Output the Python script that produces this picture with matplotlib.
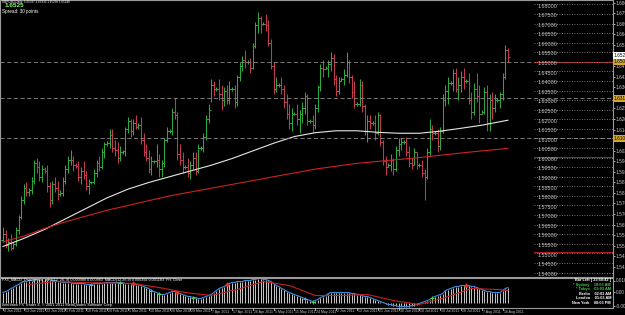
import numpy as np
import matplotlib.pyplot as plt
from matplotlib.collections import LineCollection

# -- price bars (GBPUSD daily, 4 Jan - 18 Aug 2011) ---------------------------
FIRST_OPEN = 1.5570
highs = [
    1.5640, 1.5620, 1.5580, 1.5600, 1.5560, 1.5640, 1.5700, 1.5800,
    1.5860, 1.5870, 1.5840, 1.5900, 1.5990, 1.6000, 1.5980, 1.5960,
    1.5950, 1.5960, 1.5870, 1.5880, 1.5900, 1.5880, 1.5830, 1.5900,
    1.5960, 1.6010, 1.6040, 1.6010, 1.5970, 1.5980, 1.5950, 1.5980,
    1.5930, 1.5890, 1.5880, 1.5940, 1.5990, 1.6010, 1.6050, 1.6080,
    1.6085, 1.6150, 1.6150, 1.6090, 1.6080, 1.6060, 1.6040, 1.6160,
    1.6210, 1.6200, 1.6200, 1.6220, 1.6180, 1.6210, 1.6130, 1.6070,
    1.6040, 1.6010, 1.5990, 1.6070, 1.6020, 1.5990, 1.6100, 1.6160,
    1.6150, 1.6260, 1.6310, 1.6240, 1.6070, 1.6030, 1.5960, 1.6000,
    1.5980, 1.6030, 1.6030, 1.6070, 1.6060, 1.6130, 1.6220, 1.6280,
    1.6410, 1.6400, 1.6370, 1.6410, 1.6380, 1.6370, 1.6380, 1.6400,
    1.6370, 1.6380, 1.6430, 1.6500, 1.6530, 1.6560, 1.6510, 1.6520,
    1.6600, 1.6710, 1.6760, 1.6740, 1.6710, 1.6750, 1.6720, 1.6620,
    1.6500, 1.6420, 1.6390, 1.6420, 1.6380, 1.6330, 1.6280, 1.6260,
    1.6240, 1.6280, 1.6250, 1.6290, 1.6340, 1.6330, 1.6200, 1.6220,
    1.6280, 1.6380, 1.6490, 1.6510, 1.6480, 1.6510, 1.6550, 1.6540,
    1.6430, 1.6420, 1.6420, 1.6460, 1.6550, 1.6510, 1.6430, 1.6400,
    1.6290, 1.6410, 1.6400, 1.6280, 1.6220, 1.6220, 1.6190, 1.6220,
    1.6240, 1.6230, 1.6090, 1.6010, 1.5970, 1.6020, 1.6000, 1.6060,
    1.6100, 1.6100, 1.6090, 1.6110, 1.6060, 1.6000, 1.6050, 1.6030,
    1.5970, 1.5990, 1.5940, 1.6050, 1.6200, 1.6170, 1.6140, 1.6150,
    1.6160, 1.6330, 1.6380, 1.6420, 1.6400, 1.6460, 1.6470, 1.6420,
    1.6450, 1.6470, 1.6410, 1.6440, 1.6340, 1.6390, 1.6440, 1.6380,
    1.6250, 1.6370, 1.6380, 1.6330, 1.6340, 1.6330, 1.6310, 1.6340,
    1.6440, 1.6590, 1.6570,
]
lows = [
    1.5560, 1.5530, 1.5510, 1.5520, 1.5525, 1.5540, 1.5600, 1.5680,
    1.5760, 1.5800, 1.5800, 1.5810, 1.5860, 1.5920, 1.5880, 1.5870,
    1.5920, 1.5820, 1.5740, 1.5760, 1.5820, 1.5780, 1.5800, 1.5800,
    1.5860, 1.5920, 1.5960, 1.5930, 1.5945, 1.5880, 1.5860, 1.5890,
    1.5830, 1.5810, 1.5860, 1.5860, 1.5900, 1.5930, 1.5940, 1.6000,
    1.6060, 1.6050, 1.6030, 1.6010, 1.5970, 1.5980, 1.6020, 1.6010,
    1.6130, 1.6110, 1.6120, 1.6150, 1.6150, 1.6070, 1.6010, 1.5980,
    1.5920, 1.5910, 1.5970, 1.5950, 1.5900, 1.5900, 1.5950, 1.6080,
    1.6130, 1.6120, 1.6200, 1.5990, 1.5960, 1.5920, 1.5940, 1.5900,
    1.5890, 1.5940, 1.5910, 1.5920, 1.6040, 1.6030, 1.6090, 1.6180,
    1.6290, 1.6320, 1.6350, 1.6300, 1.6250, 1.6270, 1.6280, 1.6280,
    1.6350, 1.6260, 1.6270, 1.6400, 1.6450, 1.6470, 1.6490, 1.6440,
    1.6460, 1.6570, 1.6650, 1.6650, 1.6690, 1.6660, 1.6580, 1.6460,
    1.6330, 1.6340, 1.6370, 1.6330, 1.6260, 1.6200, 1.6150, 1.6140,
    1.6220, 1.6170, 1.6130, 1.6180, 1.6230, 1.6170, 1.6180, 1.6130,
    1.6150, 1.6240, 1.6350, 1.6420, 1.6460, 1.6420, 1.6450, 1.6380,
    1.6320, 1.6330, 1.6400, 1.6380, 1.6420, 1.6390, 1.6310, 1.6260,
    1.6270, 1.6270, 1.6240, 1.6120, 1.6080, 1.6150, 1.6170, 1.6090,
    1.6120, 1.6060, 1.5960, 1.5910, 1.5950, 1.5930, 1.5910, 1.5930,
    1.6010, 1.6040, 1.6070, 1.6010, 1.5950, 1.5940, 1.5960, 1.5940,
    1.5950, 1.5900, 1.5780, 1.5890, 1.6010, 1.6090, 1.6120, 1.6030,
    1.6040, 1.6130, 1.6270, 1.6280, 1.6380, 1.6350, 1.6340, 1.6300,
    1.6340, 1.6360, 1.6390, 1.6280, 1.6200, 1.6220, 1.6290, 1.6180,
    1.6230, 1.6230, 1.6140, 1.6140, 1.6200, 1.6240, 1.6290, 1.6260,
    1.6300, 1.6410, 1.6500,
]
closes = [
    1.5600, 1.5545, 1.5560, 1.5530, 1.5550, 1.5620, 1.5690, 1.5780,
    1.5840, 1.5820, 1.5830, 1.5880, 1.5970, 1.5950, 1.5900, 1.5940,
    1.5930, 1.5850, 1.5780, 1.5860, 1.5840, 1.5810, 1.5815, 1.5880,
    1.5940, 1.5990, 1.5990, 1.5960, 1.5955, 1.5900, 1.5930, 1.5910,
    1.5850, 1.5870, 1.5870, 1.5920, 1.5970, 1.5950, 1.6030, 1.6070,
    1.6075, 1.6120, 1.6050, 1.6040, 1.6000, 1.6030, 1.6035, 1.6150,
    1.6190, 1.6140, 1.6180, 1.6160, 1.6170, 1.6090, 1.6030, 1.6000,
    1.5940, 1.5980, 1.5980, 1.5990, 1.5940, 1.5970, 1.6090, 1.6140,
    1.6140, 1.6240, 1.6220, 1.6020, 1.5990, 1.5950, 1.5950, 1.5920,
    1.5960, 1.6000, 1.5930, 1.6050, 1.6050, 1.6110, 1.6200, 1.6250,
    1.6380, 1.6360, 1.6360, 1.6330, 1.6300, 1.6350, 1.6300, 1.6360,
    1.6360, 1.6290, 1.6420, 1.6480, 1.6510, 1.6500, 1.6500, 1.6470,
    1.6580, 1.6690, 1.6730, 1.6700, 1.6700, 1.6690, 1.6600, 1.6480,
    1.6360, 1.6380, 1.6380, 1.6360, 1.6290, 1.6230, 1.6180, 1.6230,
    1.6230, 1.6200, 1.6230, 1.6260, 1.6320, 1.6190, 1.6190, 1.6170,
    1.6260, 1.6370, 1.6470, 1.6460, 1.6470, 1.6490, 1.6520, 1.6410,
    1.6350, 1.6400, 1.6410, 1.6430, 1.6500, 1.6420, 1.6340, 1.6280,
    1.6280, 1.6380, 1.6270, 1.6140, 1.6190, 1.6180, 1.6180, 1.6130,
    1.6220, 1.6080, 1.5980, 1.5950, 1.5960, 1.5990, 1.5940, 1.6040,
    1.6070, 1.6080, 1.6080, 1.6030, 1.5970, 1.5960, 1.6030, 1.5960,
    1.5960, 1.5920, 1.5900, 1.6030, 1.6150, 1.6130, 1.6130, 1.6060,
    1.6140, 1.6300, 1.6350, 1.6390, 1.6390, 1.6440, 1.6360, 1.6380,
    1.6420, 1.6400, 1.6400, 1.6300, 1.6240, 1.6360, 1.6320, 1.6230,
    1.6240, 1.6340, 1.6180, 1.6300, 1.6260, 1.6300, 1.6300, 1.6330,
    1.6420, 1.6560, 1.6525,
]

# moving averages, read every 8 bars
ma_idx = [0, 8, 16, 24, 32, 40, 48, 56, 64, 72, 80, 88, 96, 104, 112, 120,
          128, 136, 144, 152, 160, 168, 176, 184, 192, 194]
ma_fast = [1.5536, 1.5578, 1.5625, 1.5680, 1.5735, 1.5790, 1.5835, 1.5870,
           1.5900, 1.5930, 1.5960, 1.5995, 1.6035, 1.6075, 1.6110, 1.6130,
           1.6140, 1.6140, 1.6132, 1.6127, 1.6127, 1.6138, 1.6153, 1.6169,
           1.6190, 1.6195]
ma_slow = [1.5560, 1.5590, 1.5630, 1.5665, 1.5695, 1.5725, 1.5750, 1.5775,
           1.5800, 1.5820, 1.5840, 1.5860, 1.5880, 1.5900, 1.5920, 1.5940,
           1.5955, 1.5970, 1.5980, 1.5990, 1.6000, 1.6012, 1.6024, 1.6035,
           1.6045, 1.6048]

# horizontal levels
dash_levels = [1.6500, 1.6310, 1.6100]
red_levels = [1.6500, 1.6005, 1.5505]
round_levels = [1.68 - 0.005 * k for k in range(29)]
axis_ticks = [1.68086 - 0.005517 * k for k in range(27)]
last_price = 1.6525

# -- MACD window (values in 0.0001) ------------------------------------------
macd = [
    60, 66, 72, 84, 90, 102, 108, 120, 126, 126, 132, 132, 138, 138, 144, 144,
    144, 138, 138, 132, 132, 126, 126, 120, 120, 120, 120, 114, 114, 114, 114, 114,
    108, 108, 108, 114, 114, 114, 114, 120, 120, 120, 120, 120, 120, 120, 120, 114,
    114, 114, 114, 108, 108, 102, 96, 90, 84, 72, 66, 60, 54, 48, 48, 54,
    60, 66, 66, 60, 54, 48, 42, 36, 36, 30, 30, 24, 24, 30, 36, 42,
    48, 60, 72, 84, 90, 96, 108, 114, 120, 120, 126, 126, 126, 132, 132, 132,
    138, 138, 144, 144, 138, 138, 132, 126, 114, 102, 96, 84, 78, 66, 60, 54,
    48, 42, 36, 30, 24, 18, 12, 6, 12, 18, 30, 36, 42, 54, 60, 60,
    60, 60, 60, 60, 60, 60, 54, 54, 48, 48, 42, 36, 36, 30, 24, 18,
    12, 6, 0, -6, -12, -12, -18, -18, -24, -24, -24, -24, -24, -18, -18, -12,
    -6, 0, 6, 12, 18, 30, 36, 42, 48, 54, 72, 78, 84, 90, 96, 96,
    102, 102, 102, 102, 96, 96, 90, 84, 78, 72, 66, 66, 60, 60, 60, 60,
    72, 84, 90,
]
sig_idx = [10, 20, 30, 40, 50, 60, 70, 80, 90, 100, 110, 120, 130, 140, 150,
           160, 170, 180, 190, 194]
signal = [108, 126, 120, 117, 114, 90, 60, 42, 78, 126, 102, 42, 42, 48, 12,
          -12, 30, 84, 78, 72]
bull_idx = [34, 45, 57, 60, 73, 116, 119, 165]
bear_idx = [50, 67, 86, 178]

dates = ['4 Jan 2011', '13 Jan 2011', '23 Jan 2011', '1 Feb 2011', '10 Feb 2011',
         '20 Feb 2011', '1 Mar 2011', '10 Mar 2011', '20 Mar 2011', '29 Mar 2011',
         '7 Apr 2011', '17 Apr 2011', '26 Apr 2011', '5 May 2011', '15 May 2011',
         '24 May 2011', '2 Jun 2011', '12 Jun 2011', '21 Jun 2011', '30 Jun 2011',
         '10 Jul 2011', '19 Jul 2011', '28 Jul 2011', '7 Aug 2011', '16 Aug 2011']

clock_lines = [('Bar Left [ 23:58:42 ]', 'white'),
               ('* Sydney    10:03 AM', '#3cd23c'),
               ('* Tokyo    09:03 AM', '#3cd23c'),
               ('Berlin    02:03 AM', 'white'),
               ('London    01:03 AM', 'white'),
               ('New York    08:03 PM', 'white')]

NARROW = ['Liberation Sans Narrow', 'Liberation Sans', 'DejaVu Sans']
UP, DOWN = '#2fa83a', '#c23a52'
GRID = '#8c8c8c'
TXT = '#c8c8c8'
W, H = 625, 315
XMIN, XMAX = -1.15, 234.2
AX_R = 612.5

fig = plt.figure(figsize=(W / 100, H / 100), dpi=100, facecolor='black')


def px_axes(x0, y0, x1, y1):
    a = fig.add_axes([x0 / W, 1 - y1 / H, (x1 - x0) / W, (y1 - y0) / H])
    a.set_facecolor('black')
    for s in a.spines.values():
        s.set_color('#9a9a9a')
        s.set_linewidth(0.8)
    a.set_xlim(XMIN, XMAX)
    a.tick_params(colors=TXT, labelsize=3.4, length=1.5, width=0.6, pad=1)
    return a


def ftext(x, y, s, **kw):
    # text placed in figure pixels (from top-left)
    kw.setdefault('family', NARROW)
    fig.text(x / W, 1 - y / H, s, **kw)


ax = px_axes(0, 0, AX_R, 276.5)
axi = px_axes(0, 277.5, AX_R, 308)
ax.set_ylim(1.53792, 1.68227)

# OHLC bars
opens = [FIRST_OPEN] + closes[:-1]
segs, cols = [], []
for i, (o, h, l, c) in enumerate(zip(opens, highs, lows, closes)):
    col = UP if c >= o else DOWN
    segs += [[(i, l), (i, h)], [(i - 0.7, o), (i, o)], [(i, c), (i + 0.7, c)]]
    cols += [col] * 3
ax.add_collection(LineCollection(segs, colors=cols, linewidths=0.75))

ax.plot(ma_idx, ma_fast, color='#e6e6e6', lw=0.8)
ax.plot(ma_idx, ma_slow, color='#d02020', lw=0.8)

for lv in dash_levels:
    ax.axhline(lv, color=GRID, lw=0.6, ls=(0, (5, 3)))
for lv in red_levels:
    ax.plot([204, XMAX], [lv, lv], color='#b02020', lw=0.7)
for lv in round_levels:
    ax.plot([204, XMAX], [lv, lv], color='#9a9a9a', lw=0.6, ls=(0, (1, 2)))
    ax.text(205.5, lv - 0.0009, f'{lv:.5f}', color=TXT, fontsize=3.9,
            va='center', ha='left', family=NARROW)

# right price scale; labels under the coloured boxes are hidden
box_prices = dash_levels + [last_price]
ticks = [t for t in axis_ticks
         if min(abs(t - b) for b in box_prices) > 0.0021 and t > 1.5420]
ax.yaxis.tick_right()
ax.set_yticks(ticks)
ax.set_yticklabels([f'{t:.5f}' for t in ticks], family=NARROW)
ax.set_xticks([])

for lv in dash_levels:
    ax.text(1.002, lv, f'{lv:.5f}', transform=ax.get_yaxis_transform(),
            fontsize=3.4, color='black', va='center', ha='left', family=NARROW,
            bbox=dict(boxstyle='square,pad=0.2', fc='#d4a830', ec='none'))
ax.text(1.002, last_price + 0.0006, f'{last_price:.5f}', transform=ax.get_yaxis_transform(),
        fontsize=3.4, color='black', va='center', ha='left', family=NARROW,
        bbox=dict(boxstyle='square,pad=0.2', fc='white', ec='none'))

ftext(2, 0.5, 'GBPUSD,Daily  1.65327 1.65333 1.65238 1.65248', color='white',
      fontsize=2.2, va='top', ha='left')
ftext(5, 3.2, '1.6525', color='#7cff5a', fontsize=4.6, fontweight='bold',
      va='top', ha='left')
ftext(2, 9.5, 'Spread: 30 points', color='white', fontsize=3.3, va='top', ha='left')

# indicator window
axi.set_ylim(-33, 150)
xs = np.arange(len(macd))
axi.vlines(xs, 0, macd, color='#e8e8e8', lw=0.6)
axi.plot(xs, macd, color='#3c8cdc', lw=0.8)
axi.plot(sig_idx, signal, color='#c82020', lw=0.8)
axi.scatter(bull_idx, [macd[i] for i in bull_idx], marker='+', color='#40e040',
            s=5, lw=0.7, zorder=5)
axi.scatter(bear_idx, [macd[i] + 5 for i in bear_idx], marker='^', color='#e03030',
            s=4, zorder=5)
axi.yaxis.tick_right()
axi.set_yticks([132, 66, -18])
axi.set_yticklabels(['0.010890', '0.00', '-0.002853'], family=NARROW)
axi.set_xticks([])

ftext(2, 280, 'FX5_MACD_Divergence_v1.1(12, 26, 9) 0.000988 0.000983  '
      'MACD(12,26,9) 0.000392 0.001183  Prt. Close', color='white',
      fontsize=2.7, va='center', ha='left')
ftext(2, 305, 'Interbank FX Trader 4, © 2001-2011 MetaQuotes Software Corp.',
      color='white', fontsize=2.8, va='center', ha='left')
for k, (txt, col) in enumerate(clock_lines):
    ftext(611, 280.2 + k * 4.5, txt, color=col, fontsize=2.8, va='center',
          ha='right', fontweight='bold')

# date axis
for k, d in enumerate(dates):
    i = 8 * k
    xp = (i - XMIN) / (XMAX - XMIN) * AX_R
    fig.lines.append(plt.Line2D([xp / W, xp / W], [1 - 308 / H, 1 - 310 / H],
                                color=TXT, lw=0.6, transform=fig.transFigure))
    ftext(xp + 1, 311.5, d, color=TXT, fontsize=2.5, va='center', ha='left')

fig.savefig('out.png', dpi=100, facecolor='black')
